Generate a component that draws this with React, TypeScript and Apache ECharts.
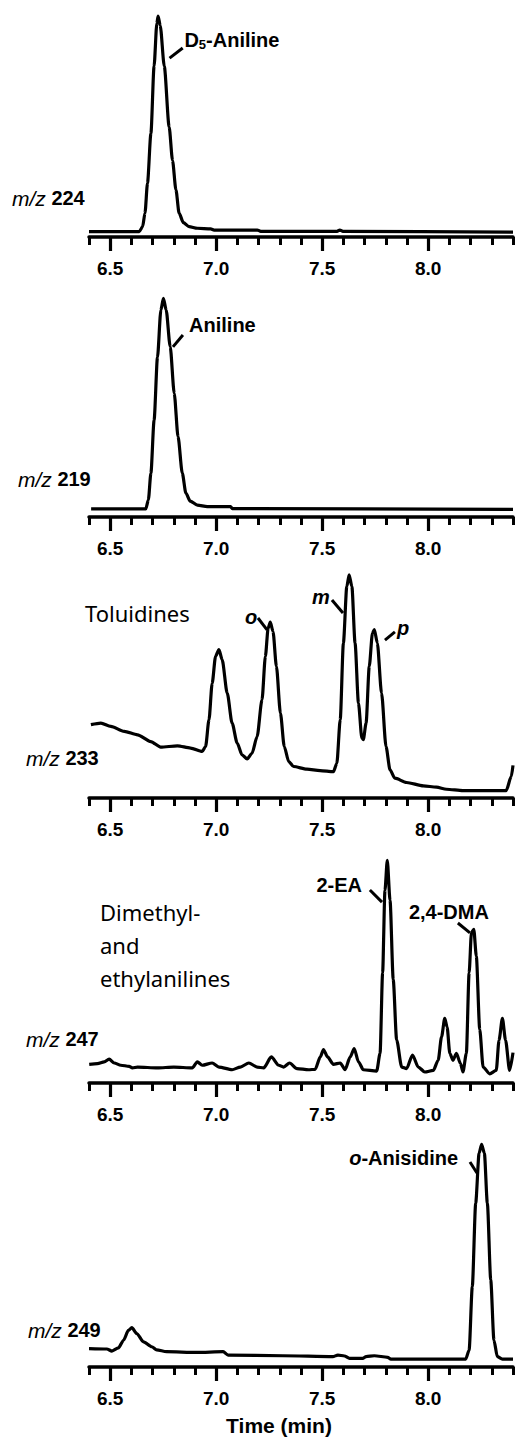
import React, { useEffect, useRef } from 'react';
import * as echarts from 'echarts';

// ---- data: retention time (min) and relative intensity (%) per ion trace ----
const d5Time = [6.40, 6.637, 6.653, 6.664, 6.676, 6.692, 6.707, 6.72, 6.726, 6.736, 6.755, 6.778, 6.794, 6.81, 6.825, 6.845, 6.872, 6.911, 6.974, 6.99, 7.084, 7.194, 7.21, 7.57, 7.583, 7.598, 8.40];
const d5Int = [2.4, 2.4, 4.6, 10.6, 24, 46, 76, 95, 98.2, 94, 76, 49, 34, 21, 10.6, 6.4, 4.6, 3.9, 3.6, 3.1, 3.1, 3.1, 2.5, 2.5, 3.1, 2.5, 2.2];

const anTime = [6.41, 6.668, 6.68, 6.692, 6.707, 6.723, 6.739, 6.751, 6.764, 6.783, 6.802, 6.82, 6.84, 6.857, 6.877, 6.911, 6.958, 7.068, 7.076, 8.40];
const anInt = [3.6, 3.6, 7.6, 19.5, 43, 71, 92, 97.2, 92, 75.7, 55, 35.7, 19.5, 10.6, 7.1, 5.3, 4.6, 4.6, 3.7, 3.4];

const toTime = [6.409, 6.456, 6.503, 6.566, 6.629, 6.691, 6.738, 6.817, 6.879, 6.934, 6.95, 6.966, 6.981, 6.997, 7.013, 7.028, 7.052, 7.075, 7.099, 7.122, 7.146, 7.169, 7.193, 7.216, 7.232, 7.245, 7.255, 7.268, 7.284, 7.303, 7.321, 7.342, 7.365, 7.428, 7.49, 7.553, 7.569, 7.585, 7.6, 7.616, 7.627, 7.64, 7.655, 7.671, 7.687, 7.694, 7.707, 7.722, 7.737, 7.746, 7.76, 7.78, 7.801, 7.82, 7.843, 7.898, 7.977, 8.039, 8.086, 8.164, 8.368, 8.392, 8.40];
const toInt = [32.6, 33.3, 31.8, 29.6, 28.1, 25.1, 22.6, 23.2, 22.2, 20.7, 22.9, 34.8, 51, 63, 66, 61.5, 46.6, 33.3, 24.4, 19.2, 17.4, 19.9, 27.3, 43.6, 63, 75.5, 78.2, 74, 58.5, 37.7, 22.9, 16.2, 14, 12.8, 12.2, 11.7, 15.4, 34.8, 68.9, 94, 99.2, 94, 68.9, 42.2, 26.6, 25.9, 33.3, 58.5, 73.3, 74.8, 68.9, 46.6, 22.9, 12.5, 8.8, 6.9, 5.4, 4.8, 3.9, 3.3, 3.3, 9.6, 14.5];

const dmTime = [6.401, 6.44, 6.472, 6.495, 6.519, 6.55, 6.589, 6.605, 6.629, 6.723, 6.8, 6.887, 6.911, 6.934, 6.981, 7.013, 7.075, 7.114, 7.154, 7.193, 7.224, 7.26, 7.295, 7.318, 7.346, 7.381, 7.436, 7.467, 7.491, 7.506, 7.525, 7.553, 7.585, 7.608, 7.632, 7.651, 7.671, 7.694, 7.757, 7.773, 7.785, 7.796, 7.807, 7.82, 7.835, 7.851, 7.875, 7.898, 7.926, 7.953, 7.984, 8.024, 8.047, 8.063, 8.078, 8.089, 8.102, 8.117, 8.133, 8.152, 8.164, 8.18, 8.193, 8.204, 8.215, 8.227, 8.243, 8.259, 8.29, 8.321, 8.334, 8.35, 8.365, 8.384, 8.40];
const dmInt = [8.3, 8.6, 9.4, 10.6, 8.9, 7.9, 7.4, 6.7, 7.1, 6.7, 7.1, 6.7, 9.4, 7.9, 8.9, 7.1, 5.9, 7.1, 8.9, 7.1, 6.7, 11.6, 7.9, 7.1, 8.9, 6.4, 5.9, 6.1, 11.6, 14.9, 11.6, 8.3, 8.9, 5.9, 11.6, 15.3, 9.4, 5.9, 5.3, 13.2, 49, 85.6, 99, 81.2, 46, 19.2, 7.1, 6.4, 12.4, 7.1, 4.9, 5.6, 10.1, 20.5, 28.7, 25, 13.2, 10.1, 13.2, 8.7, 4.9, 13.2, 49, 66.8, 68.3, 56.4, 23.9, 7.1, 4.1, 5.6, 19, 28.7, 19, 5.6, 13.5];

const anisTime = [6.40, 6.484, 6.508, 6.539, 6.563, 6.586, 6.602, 6.625, 6.657, 6.696, 6.719, 6.766, 6.908, 7.033, 7.056, 7.315, 7.55, 7.574, 7.605, 7.629, 7.691, 7.707, 7.746, 7.809, 7.824, 8.177, 8.193, 8.208, 8.224, 8.24, 8.252, 8.265, 8.279, 8.295, 8.31, 8.326, 8.35, 8.40];
const anisInt = [8.2, 8, 7.1, 8.5, 11.9, 16.3, 17.5, 14.9, 11.2, 9, 7.6, 6.8, 6.5, 6.8, 5.3, 5, 4.6, 5.3, 4.9, 3.8, 3.8, 4.6, 5, 4.3, 3.5, 3.5, 7.5, 35.7, 72.8, 95, 99, 95, 72.8, 38.7, 12, 4.6, 3.5, 3.5];

const ionLabels = ['224', '219', '233', '247', '249'];
const traces = [
  [d5Time, d5Int],
  [anTime, anInt],
  [toTime, toInt],
  [dmTime, dmInt],
  [anisTime, anisInt],
];
const majorTicks = [6.5, 7.0, 7.5, 8.0];
const timeMin = 6.4;
const timeMax = 8.4;

// ---- layout ----
const W = 519;
const H = 1440;
const axisY = [237, 517, 798, 1083, 1367];
const gridH = 225;
const gridLeft = 89;
const gridRight = 6;
const ionLabelX = [12, 18, 26, 26, 28];
const ionLabelY = [198, 479, 758, 1039, 1330];

const SANS = '"Liberation Sans", Arial, Helvetica, sans-serif';
const HUMAN = '"Noto Sans", "Open Sans", sans-serif';

// peak annotations in data coordinates (time, intensity)
const annotations = [
  { panel: 0, text: '{b|D}{s|5}{b|-Aniline}', at: [6.85, 87.5], align: 'left', from: [6.78, 79.5], to: [6.842, 84] },
  { panel: 1, text: '{b|Aniline}', at: [6.872, 85.3], align: 'left', from: [6.796, 75.6], to: [6.843, 80.9] },
  { panel: 2, text: '{bi|o}', at: [7.136, 80.4], align: 'left', from: [7.197, 80], to: [7.24, 74.7] },
  { panel: 2, text: '{bi|m}', at: [7.452, 89.3], align: 'left', from: [7.546, 88], to: [7.598, 82.2] },
  { panel: 2, text: '{bi|p}', at: [7.853, 75.6], align: 'left', from: [7.796, 70.2], to: [7.843, 73.8] },
  { panel: 3, text: '{b|2-EA}', at: [7.688, 88], align: 'right', from: [7.725, 85.8], to: [7.782, 80.4] },
  { panel: 3, text: '{b|2,4-DMA}', at: [7.909, 76], align: 'left', from: [8.14, 71.1], to: [8.197, 66.7] },
  { panel: 4, text: '{bi|o}{b|-Anisidine}', at: [8.141, 92.9], align: 'right', from: [8.197, 91.1], to: [8.23, 86.2] },
];

const richStyles = {
  b: { fontFamily: SANS, fontWeight: 'bold', fontSize: 20, fill: '#000' },
  bi: { fontFamily: SANS, fontWeight: 'bold', fontStyle: 'italic', fontSize: 20, fill: '#000' },
  s: { fontFamily: SANS, fontWeight: 'bold', fontSize: 13, fill: '#000', padding: [9, 0, 0, 0] },
  i: { fontFamily: SANS, fontStyle: 'italic', fontSize: 21, fill: '#000' },
};

export default function App() {
  const ref = useRef<HTMLDivElement>(null);

  useEffect(() => {
    document.body.style.margin = '0';
    if (!ref.current) return;
    const chart = echarts.init(ref.current, undefined, { renderer: 'svg', width: W, height: H });

    const grids: any[] = [];
    const xAxes: any[] = [];
    const yAxes: any[] = [];
    const series: any[] = [];

    traces.forEach((tr, p) => {
      grids.push({ left: gridLeft, right: gridRight, top: axisY[p] - gridH, height: gridH, containLabel: false });
      // minor ticks + axis line
      xAxes.push({
        type: 'value', gridIndex: p, position: 'bottom', min: timeMin, max: timeMax, interval: 0.1,
        axisLine: { show: true, onZero: false, lineStyle: { color: '#000', width: 3.5 } },
        axisTick: { show: true, length: 8, lineStyle: { color: '#000', width: 3 } },
        axisLabel: { show: false },
        splitLine: { show: false },
      });
      // major ticks + labels
      xAxes.push({
        type: 'value', gridIndex: p, position: 'bottom', min: timeMin, max: timeMax,
        axisLine: { show: false, onZero: false },
        axisTick: { show: true, length: 14, customValues: majorTicks, lineStyle: { color: '#000', width: 3.2 } },
        axisLabel: {
          show: true, customValues: majorTicks, margin: 22,
          formatter: (v: number) => v.toFixed(1),
          fontFamily: SANS, fontWeight: 'bold', fontSize: 19, color: '#000',
        },
        splitLine: { show: false },
        ...(p === 4
          ? {
              name: 'Time (min)', nameLocation: 'middle', nameGap: 48,
              nameTextStyle: { fontFamily: SANS, fontWeight: 'bold', fontSize: 21, color: '#000', padding: [0, 44, 0, 0] },
            }
          : {}),
      });
      yAxes.push({ type: 'value', gridIndex: p, min: 0, max: 100, show: false });
      const [ts, ys] = tr;
      series.push({
        type: 'line', xAxisIndex: 2 * p, yAxisIndex: p,
        data: ts.map((t, i) => [t, ys[i]]),
        showSymbol: false, smooth: 0.25, smoothMonotone: 'x',
        lineStyle: { color: '#000', width: 3.2, join: 'round' },
        itemStyle: { color: '#000' },
        silent: true,
      });
    });

    chart.setOption({
      animation: false,
      backgroundColor: '#fff',
      grid: grids,
      xAxis: xAxes,
      yAxis: yAxes,
      series,
    });

    const graphics: any[] = [];
    ionLabels.forEach((lab, p) => {
      graphics.push({
        type: 'text', x: ionLabelX[p], y: ionLabelY[p], silent: true,
        style: {
          text: `{i|m/z} {b|${lab}}`, rich: richStyles, verticalAlign: 'middle', align: 'left',
          fontFamily: SANS, fontSize: 20, fill: '#000',
        },
      });
    });
    graphics.push({
      type: 'text', x: 85, y: 613, silent: true,
      style: { text: 'Toluidines', fontFamily: HUMAN, fontSize: 22, fill: '#000', verticalAlign: 'middle', align: 'left' },
    });
    graphics.push({
      type: 'text', x: 100, y: 895, silent: true,
      style: { text: 'Dimethyl-\nand\nethylanilines', fontFamily: HUMAN, fontSize: 22, lineHeight: 33, fill: '#000', verticalAlign: 'top', align: 'left' },
    });
    annotations.forEach((a) => {
      const pt = chart.convertToPixel({ seriesIndex: a.panel }, a.at) as number[];
      const f = chart.convertToPixel({ seriesIndex: a.panel }, a.from) as number[];
      const t = chart.convertToPixel({ seriesIndex: a.panel }, a.to) as number[];
      graphics.push({
        type: 'line', silent: true,
        shape: { x1: f[0], y1: f[1], x2: t[0], y2: t[1] },
        style: { stroke: '#000', lineWidth: 3 },
      });
      graphics.push({
        type: 'text', x: pt[0], y: pt[1], silent: true,
        style: { text: a.text, rich: richStyles, align: a.align, verticalAlign: 'middle', fontFamily: SANS, fontSize: 20, fill: '#000' },
      });
    });
    chart.setOption({ graphic: graphics });

    return () => chart.dispose();
  }, []);

  return <div ref={ref} style={{ width: W, height: H }} />;
}
